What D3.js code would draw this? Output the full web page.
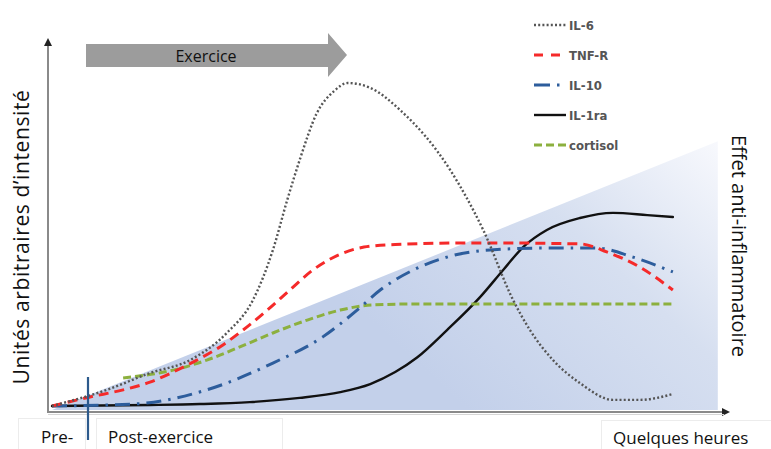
<!DOCTYPE html>
<html><head><meta charset="utf-8">
<script src="https://cdn.jsdelivr.net/npm/d3@7/dist/d3.min.js"></script>
<style>body{margin:0;background:#fff}svg{display:block}</style>
</head><body>
<svg id="c" width="771" height="449"></svg>
<script>
// ---- data (arbitrary time units 0-100, arbitrary intensity 0-100) ----
const seriesNames = ["IL-6", "TNF-R", "IL-10", "IL-1ra", "cortisol"];
const il6 = [[0,0],[8.8,5],[15.7,10.2],[22.1,14.2],[28,22.6],[32.2,32.8],[35.4,48.3],[37.7,63.8],[39.7,76.2],[42.4,90.5],[45.2,97.5],[47.4,100],[51,98.5],[55.8,91.6],[63.8,73.1],[69.1,54.5],[73.9,32.8],[76.6,23.5],[80.3,14.2],[84.6,7.1],[89.9,1.9],[94.2,1.9],[99.5,3.7]];
const tnfr = [[0,0],[6.1,2.8],[11.4,5.0],[15.7,7.4],[19.4,10.5],[23.2,14.2],[26.9,18.3],[30.6,23.5],[34.5,29.7],[38.1,35.9],[41.8,42.1],[46.2,47.0],[50,49.2],[55,50.0],[68.6,50.5],[84.6,50.2],[88.9,47.7],[94.2,43.0],[99.5,35.9]];
const il10 = [[0,0],[13,0.6],[24.8,5.0],[35.4,13.3],[43.4,21.4],[48.9,29.7],[52.6,35.9],[57.9,42.1],[63.3,46.1],[70.2,48.3],[79.3,48.9],[87.3,48.9],[93.1,46.1],[99.5,41.5]];
const il1ra = [[0,0],[15.7,0.3],[23.7,0.6],[31.7,1.2],[39.7,2.5],[46.2,4.3],[51,6.8],[55,10.5],[58.5,15],[63.3,23.5],[68.6,33.7],[72.3,42.1],[75.5,49.2],[79.3,54.5],[84.6,58.2],[89.9,59.8],[95.4,59.1],[99.5,58.5]];
const cortisol = [[11.4,8.7],[19.4,11.1],[24.8,14.2],[30.1,18.3],[35.4,22.6],[40.9,26.6],[46.2,29.7],[51.4,31.3],[58.9,31.6],[99.5,31.6]];
const phaseLabels = ["Pre-", "Post-exercice", "Quelques heures"];
const exerciseLabel = "Exercice";
const yTitle = "Unités arbitraires d’intensité";
const rightTitle = "Effet anti-inflammatoire";
// anti-inflammatory wedge (time, intensity)
const wedge = [[0,-1.2],[106.7,82],[106.7,-1.2]];

// ---- styles ----
const styles = {
  "IL-6":    {color:"#555", width:2.4, dash:"2,2.2", cap:"butt"},
  "TNF-R":   {color:"#f52a2a", width:3, dash:"10,6", cap:"butt"},
  "IL-10":   {color:"#2d5d9c", width:3, dash:"15,7,2.5,7", cap:"butt"},
  "IL-1ra":  {color:"#111", width:2.4, dash:null, cap:"round"},
  "cortisol":{color:"#8cb03e", width:3, dash:"8,4", cap:"butt"}
};
const data = {"IL-6":il6, "TNF-R":tnfr, "IL-10":il10, "IL-1ra":il1ra, "cortisol":cortisol};

const svg = d3.select("#c");
const x = d3.scaleLinear().domain([0,100]).range([52,676]);
const y = d3.scaleLinear().domain([0,100]).range([406,83]);

const defs = svg.append("defs");
const g = defs.append("linearGradient").attr("id","wg").attr("gradientUnits","userSpaceOnUse")
  .attr("x1",720).attr("y1",140).attr("x2",470).attr("y2",412);
g.append("stop").attr("offset",0).attr("stop-color","#f8f9fd");
g.append("stop").attr("offset",0.45).attr("stop-color","#d6dff0");
g.append("stop").attr("offset",1).attr("stop-color","#c3d0ea");
defs.append("marker").attr("id","ah").attr("viewBox","0 0 10 10").attr("refX",5).attr("refY",5)
  .attr("markerWidth",4).attr("markerHeight",4).attr("orient","auto-start-reverse")
  .append("path").attr("d","M0,0L10,5L0,10z").attr("fill","#222");

// wedge
svg.append("path").datum(wedge)
  .attr("d", d3.line().x(d=>x(d[0])).y(d=>y(d[1])))
  .attr("fill","url(#wg)");

// axes
svg.append("line").attr("x1",48).attr("y1",412).attr("x2",48).attr("y2",42)
  .attr("stroke","#8a8a8a").attr("stroke-width",2).attr("marker-end","url(#ah)");
svg.append("line").attr("x1",47).attr("y1",412).attr("x2",726).attr("y2",412)
  .attr("stroke","#8a8a8a").attr("stroke-width",2).attr("marker-end","url(#ah)");
svg.append("line").attr("x1",48).attr("y1",414.5).attr("x2",724).attr("y2",414.5)
  .attr("stroke","#d6d6d6").attr("stroke-width",1.2);

// curves
const line = d3.line().x(d=>x(d[0])).y(d=>y(d[1])).curve(d3.curveMonotoneX);
const order = ["IL-1ra","cortisol","IL-10","TNF-R","IL-6"];
order.forEach(n=>{
  const s = styles[n];
  svg.append("path").datum(data[n]).attr("d",line).attr("fill","none")
    .attr("stroke",s.color).attr("stroke-width",s.width)
    .attr("stroke-dasharray",s.dash).attr("stroke-linecap",s.cap);
});

// Exercise arrow
svg.append("path").attr("d","M86,44H328V33L347,55L328,77V67H86Z").attr("fill","#9c9c9c");
svg.append("text").attr("x",206).attr("y",62).attr("text-anchor","middle")
  .attr("font-family","'Open Sans','Noto Sans',sans-serif").attr("font-size",16).attr("fill","#111").text(exerciseLabel);

// Legend
const legY = [25,55,85,115,145];
seriesNames.forEach((n,i)=>{
  const s = styles[n];
  svg.append("line").attr("x1",534).attr("x2",566).attr("y1",legY[i]).attr("y2",legY[i])
    .attr("stroke",s.color).attr("stroke-width",s.width)
    .attr("stroke-dasharray", n==="TNF-R" ? "9,8" : n==="IL-10" ? "16,7,2.5,7" : s.dash);
  svg.append("text").attr("x",569).attr("y",legY[i]+4.5).text(n)
    .attr("font-family","'Liberation Sans Narrow','DejaVu Sans Condensed',sans-serif")
    .attr("font-size",13).attr("font-weight","bold").attr("fill","#555");
});

// Phase labels boxes
const boxes = [[18,418,67,31],[96,418,186,31],[601,420,170,29]];
boxes.forEach(b=>svg.append("rect").attr("x",b[0]+0.5).attr("y",b[1]+0.5).attr("width",b[2]).attr("height",b[3])
  .attr("fill","#fff").attr("stroke","#ececec"));
const lf = "'Open Sans','Noto Sans',sans-serif";
svg.append("text").attr("x",41).attr("y",443).text(phaseLabels[0]).attr("font-family",lf).attr("font-size",17).attr("fill","#111");
svg.append("text").attr("x",108).attr("y",443).text(phaseLabels[1]).attr("font-family",lf).attr("font-size",17).attr("fill","#111");
svg.append("text").attr("x",613).attr("y",444).text(phaseLabels[2]).attr("font-family",lf).attr("font-size",17).attr("fill","#111");

// blue marker at end of exercise
svg.append("line").attr("x1",88).attr("x2",88).attr("y1",377).attr("y2",440)
  .attr("stroke","#2d5a8c").attr("stroke-width",2.2);

// axis titles
svg.append("text").attr("transform","translate(29,237) rotate(-90)").attr("text-anchor","middle")
  .attr("font-family",lf).attr("font-size",21).attr("letter-spacing",0.6).attr("fill","#111").text(yTitle);
svg.append("text").attr("transform","translate(732,246) rotate(90)").attr("text-anchor","middle")
  .attr("font-family",lf).attr("font-size",20).attr("fill","#111").text(rightTitle);
</script>
</body></html>
